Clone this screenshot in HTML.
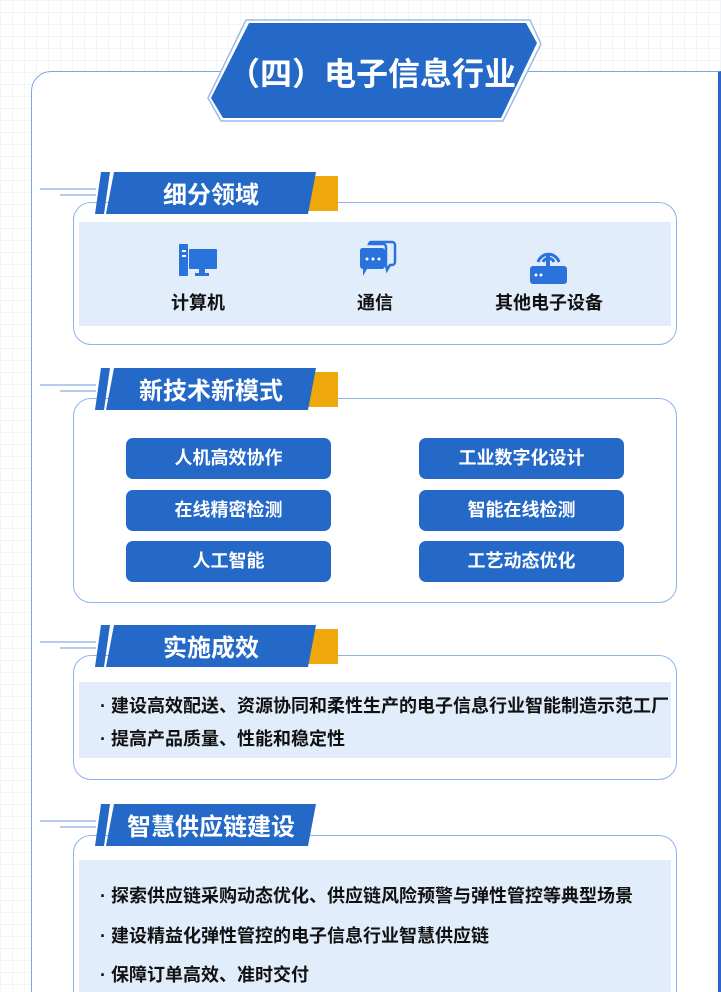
<!DOCTYPE html>
<html><head><meta charset="utf-8"><style>
*{margin:0;padding:0;box-sizing:border-box}
html,body{width:721px;height:992px;overflow:hidden}
body{position:relative;background:#fff;
background-image:linear-gradient(#f2f4f8 1px,transparent 1px),linear-gradient(90deg,#f2f4f8 1px,transparent 1px);background-size:12px 12px;
font-family:"Liberation Sans","Noto Sans CJK SC",sans-serif;}
.abs{position:absolute}
.outer{left:31px;top:71px;width:690px;height:921px;background:#fff;border:1.5px solid #7fa6e0;border-bottom:none;border-radius:20px 0 0 0;border-right:3px solid #2a66c8}
.card{position:absolute;left:73px;width:604px;border:1.5px solid #8fb2ea;border-radius:18px;background:#fff}
.fill{position:absolute;left:79px;width:592px;background:#e1edfb}
.btn{position:absolute;width:205px;height:41px;background:#2468c8;border-radius:7px;color:#fff;font-size:18px;font-weight:bold;text-align:center;line-height:41px}
.line{position:absolute;left:100px;font-size:18px;font-weight:bold;color:#111}
.lbl{position:absolute;font-size:18px;font-weight:bold;color:#111;text-align:center;width:140px}
</style></head><body>
<div class="abs outer"></div>

<svg class="abs" style="left:0;top:0" width="721" height="992">
<polygon points="246,20 530,20 541,44 503,121 221,121 208,98" fill="#fff" stroke="#9bbbe8" stroke-width="1.5"/>
<polygon points="249,23 526,23 537,43 501,118 223,118 211,98" fill="#2468c8"/>
<text x="372" y="85" fill="#fff" font-size="32" font-weight="bold" text-anchor="middle" font-family="Liberation Sans,Noto Sans CJK SC,sans-serif">（四）电子信息行业</text>
</svg>

<div class="card" style="top:202px;height:143px"></div>
<div class="fill" style="top:222px;height:104px"></div>
<div class="card" style="top:398px;height:205px"></div>
<div class="card" style="top:655px;height:125px"></div>
<div class="fill" style="top:682px;height:76px"></div>
<div class="card" style="top:835px;height:200px"></div>
<div class="fill" style="top:860px;height:140px"></div>

<svg class="abs" style="left:0;top:0" width="721" height="992">
<g>
<line x1="40" y1="189" x2="96" y2="189" stroke="#9bbbe8" stroke-width="1.5"/>
<line x1="60" y1="195" x2="96" y2="195" stroke="#9bbbe8" stroke-width="1.5"/>
<rect x="308" y="176" width="30" height="35" fill="#eea80c"/>
<polygon points="101,172 110,172 104,214 95,214" fill="#2468c8"/>
<polygon points="114,172 316,172 308,214 106,214" fill="#2468c8"/>
<text x="211" y="203" fill="#fff" font-size="24" font-weight="bold" text-anchor="middle" font-family="Liberation Sans,Noto Sans CJK SC,sans-serif">细分领域</text>
</g>
<g transform="translate(0,196)">
<line x1="40" y1="189" x2="96" y2="189" stroke="#9bbbe8" stroke-width="1.5"/>
<line x1="60" y1="195" x2="96" y2="195" stroke="#9bbbe8" stroke-width="1.5"/>
<rect x="308" y="176" width="30" height="35" fill="#eea80c"/>
<polygon points="101,172 110,172 104,214 95,214" fill="#2468c8"/>
<polygon points="114,172 316,172 308,214 106,214" fill="#2468c8"/>
<text x="211" y="203" fill="#fff" font-size="24" font-weight="bold" text-anchor="middle" font-family="Liberation Sans,Noto Sans CJK SC,sans-serif">新技术新模式</text>
</g>
<g transform="translate(0,453)">
<line x1="40" y1="189" x2="96" y2="189" stroke="#9bbbe8" stroke-width="1.5"/>
<line x1="60" y1="195" x2="96" y2="195" stroke="#9bbbe8" stroke-width="1.5"/>
<rect x="308" y="176" width="30" height="35" fill="#eea80c"/>
<polygon points="101,172 110,172 104,214 95,214" fill="#2468c8"/>
<polygon points="114,172 316,172 308,214 106,214" fill="#2468c8"/>
<text x="211" y="203" fill="#fff" font-size="24" font-weight="bold" text-anchor="middle" font-family="Liberation Sans,Noto Sans CJK SC,sans-serif">实施成效</text>
</g>
<g transform="translate(0,632)">
<line x1="40" y1="189" x2="96" y2="189" stroke="#9bbbe8" stroke-width="1.5"/>
<line x1="60" y1="195" x2="96" y2="195" stroke="#9bbbe8" stroke-width="1.5"/>
<polygon points="101,172 110,172 104,214 95,214" fill="#2468c8"/>
<polygon points="114,172 316,172 308,214 106,214" fill="#2468c8"/>
<text x="211" y="203" fill="#fff" font-size="24" font-weight="bold" text-anchor="middle" font-family="Liberation Sans,Noto Sans CJK SC,sans-serif">智慧供应链建设</text>
</g>

<g fill="#2a72dc">
<rect x="179" y="244" width="9" height="32" rx="1"/>
<rect x="189" y="249" width="28" height="20" rx="1"/>
<rect x="199" y="269" width="6" height="5"/>
<rect x="195" y="273" width="14" height="3"/>
<path d="M372 242 h20 a3 3 0 0 1 3 3 v17 a3 3 0 0 1-3 3 h-2 l-3 5 l-1-5 v-18 a3 3 0 0 0-3-3 h-14 a3 3 0 0 1 3-2z" fill="none" stroke="#2a72dc" stroke-width="2.5"/>
<path d="M362 248 h20 a3 3 0 0 1 3 3 v15 a3 3 0 0 1-3 3 h-15 l-4 7 v-7 a3 3 0 0 1-3-3 v-15 a3 3 0 0 1 2-3z"/>
<rect x="530" y="266" width="37" height="18" rx="3"/>
<path d="M538 262 a11 11 0 0 1 21 0" fill="none" stroke="#2a72dc" stroke-width="3"/>
<path d="M543 262 a6 6 0 0 1 11 0" fill="none" stroke="#2a72dc" stroke-width="3"/>
<rect x="546" y="255" width="4" height="12"/>
</g>
<g fill="#fff"><circle cx="367" cy="259" r="1.5"/><circle cx="373" cy="259" r="1.5"/><circle cx="379" cy="259" r="1.5"/>
<circle cx="536" cy="275" r="1.5"/><circle cx="541" cy="275" r="1.5"/>
<rect x="182" y="250" width="4" height="2"/><rect x="182" y="255" width="4" height="2"/></g>
</svg>

<div class="lbl" style="left:128px;top:289px">计算机</div>
<div class="lbl" style="left:305px;top:289px">通信</div>
<div class="lbl" style="left:479px;top:289px">其他电子设备</div>

<div class="btn" style="left:126px;top:438px">人机高效协作</div>
<div class="btn" style="left:419px;top:438px">工业数字化设计</div>
<div class="btn" style="left:126px;top:490px">在线精密检测</div>
<div class="btn" style="left:419px;top:490px">智能在线检测</div>
<div class="btn" style="left:126px;top:541px">人工智能</div>
<div class="btn" style="left:419px;top:541px">工艺动态优化</div>

<div class="line" style="top:692px">· 建设高效配送、资源协同和柔性生产的电子信息行业智能制造示范工厂</div>
<div class="line" style="top:725px">· 提高产品质量、性能和稳定性</div>

<div class="line" style="top:882px">· 探索供应链采购动态优化、供应链风险预警与弹性管控等典型场景</div>
<div class="line" style="top:922px">· 建设精益化弹性管控的电子信息行业智慧供应链</div>
<div class="line" style="top:961px">· 保障订单高效、准时交付</div>
</body></html>
